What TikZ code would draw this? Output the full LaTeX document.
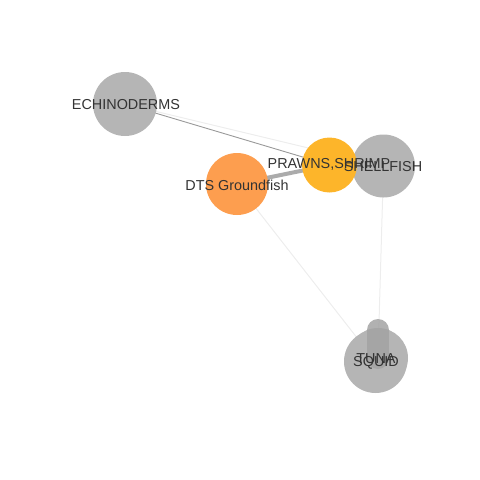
\documentclass[tikz,border=0pt]{standalone}
\usepackage{fontspec}
\setmainfont{Liberation Sans}
\begin{document}
\begin{tikzpicture}[x=1pt,y=-1pt,
  nodecirc/.style={circle,draw=none,inner sep=0pt},
  lbl/.style={text=black!80,font=\fontsize{14.4}{15}\selectfont,inner sep=0pt},
  faint/.style={draw=black!7,line width=1pt},
  mid/.style={draw=black!40,line width=0.9pt},
  heavy/.style={draw=black!33,line width=4pt}]
\useasboundingbox (0,0) rectangle (480,480);
% coordinates of node centres
\coordinate (echi) at (125,104);
\coordinate (dts) at (237,184);
\coordinate (prawn) at (329.5,165);
\coordinate (shell) at (383.5,166);
\coordinate (tuna) at (378,358);
\coordinate (squid) at (375.5,361.5);
% connectors
\draw[faint] (echi) -- (shell);
\draw[mid] (echi) -- (prawn);
\draw[heavy] (dts) -- (prawn);
\draw[faint] (dts) -- (squid);
\draw[faint] (shell) -- (tuna);
% circles
\node[nodecirc,fill=black!29,minimum size=64pt] (cE) at (echi) {};
\node[nodecirc,fill={rgb,255:red,253;green,158;blue,79},minimum size=62pt] (cD) at (dts) {};
\node[nodecirc,fill=black!29,minimum size=63pt] (cS) at (shell) {};
\node[nodecirc,fill={rgb,255:red,253;green,181;blue,42},minimum size=55pt] (cP) at (prawn) {};
\node[nodecirc,fill=black!29,minimum size=63pt] (cQ) at (squid) {};
\node[nodecirc,fill=black!29,minimum size=60pt] (cT) at (tuna) {};
% heavy link between TUNA and SQUID
\draw[draw=black!36,line width=22pt,line cap=round,opacity=0.85] (cT.center) ++(0,-28) coordinate (tt) (tt) -- (cT.center);
% labels
\node[lbl] (lE) at (126,104.5) {ECHINODERMS};
\node[lbl] (lD) at (237,185.5) {DTS Groundfish};
\node[lbl] (lS) at (383,167) {SHELLFISH};
\node[lbl] (lP) at (329,164) {PRAWNS,SHRIMP};
\node[lbl] (lT) at (376,358.5) {TUNA};
\node[lbl] (lQ) at (376,362.5) {SQUID};
\end{tikzpicture}
\end{document}
